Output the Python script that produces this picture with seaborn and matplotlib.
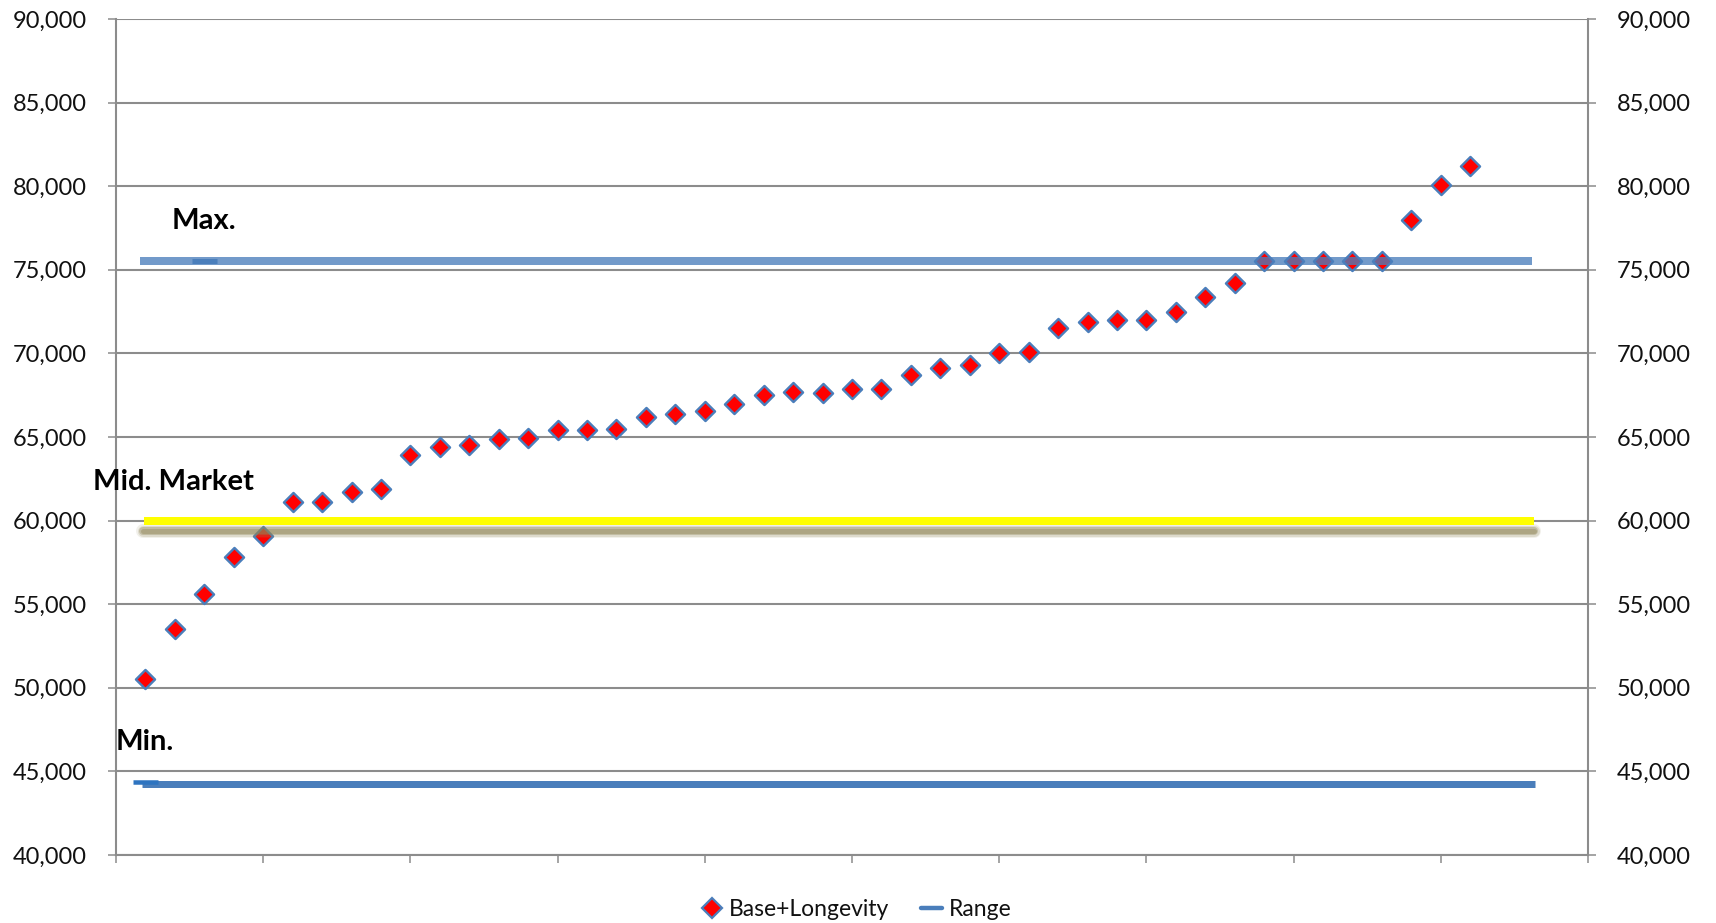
import numpy as np
import pandas as pd
import matplotlib
matplotlib.use("Agg")
import matplotlib.pyplot as plt
from matplotlib.lines import Line2D
import seaborn as sns

# Base + longevity pay, one value per employee (sorted)
base_longevity = [
    50500, 53500, 55600, 57800, 59100, 61100, 61100, 61700, 61900, 63900,
    64400, 64500, 64900, 64950, 65400, 65400, 65500, 66200, 66400, 66550,
    67000, 67500, 67700, 67650, 67900, 67900, 68700, 69100, 69300, 70000,
    70100, 71500, 71900, 72000, 72000, 72500, 73400, 74200, 75500, 75500,
    75500, 75500, 75500, 78000, 80100, 81200,
]

# Salary range
range_labels = ["Min.", "Mid. Market", "Max."]
range_values = [44250, 60000, 75500]

y_ticks = [40000, 45000, 50000, 55000, 60000, 65000, 70000, 75000, 80000, 85000, 90000]
y_tick_labels = [f"{v:,}" for v in y_ticks]

sns.set_style("white")
plt.rcParams["font.family"] = ["Lato", "DejaVu Sans"]

BLUE = "#4a7ebb"
GRID = "#8c8c8c"
PX = 0.72  # points per pixel at 100 dpi

fig = plt.figure(figsize=(17.16, 9.23), dpi=100)
ax = fig.add_axes([0.0676, 0.0737, 0.8578, 0.9057])

df = pd.DataFrame({"pos": np.arange(1, len(base_longevity) + 1), "pay": base_longevity})

# Employee points
sns.scatterplot(data=df, x="pos", y="pay", ax=ax, marker="D", s=95,
                color="#ff0000", edgecolor=BLUE, linewidth=1.7, zorder=3,
                legend=False)

# Min. line
sns.lineplot(x=[0.88, 48.2], y=[range_values[0]] * 2, ax=ax, color=BLUE,
             lw=7 * PX, solid_capstyle="butt", zorder=4, legend=False)

# Mid market line with a soft drop shadow
mid = range_values[1]
for lw, a in [(14, 0.12), (11, 0.20), (8, 0.35), (5, 0.40)]:
    ax.plot([0.92, 48.15], [mid - 620] * 2, color="#8f8456", lw=lw * PX,
            alpha=a, solid_capstyle="round", zorder=4)
ax.plot([2], [mid - 70], marker="_", ms=26 * PX, mew=3 * PX,
        color="#9acb3c", zorder=4.5, ls="none")
sns.lineplot(x=[0.95, 48.15], y=[mid] * 2, ax=ax, color="#ffff00",
             lw=8 * PX, solid_capstyle="butt", zorder=5, legend=False)

# Max. line (semi-transparent, over the points)
sns.lineplot(x=[0.82, 48.1], y=[range_values[2]] * 2, ax=ax, color=BLUE,
             alpha=0.78, lw=8 * PX, solid_capstyle="butt", zorder=6,
             legend=False)

# Range series markers
ax.plot([1], [range_values[0] + 120], marker="_", ms=25 * PX, mew=4.5 * PX,
        color="#2e74c0", zorder=5, ls="none")
ax.plot([3], [range_values[2]], marker="_", ms=25 * PX, mew=5 * PX,
        color=BLUE, zorder=7, ls="none")

# Range labels
label_pos = [(0.0, 46290), (-0.78, 61830), (1.9, 77440)]
for text, (lx, ly) in zip(range_labels, label_pos):
    ax.text(lx, ly, text, fontsize=21, fontweight="bold", ha="left",
            va="baseline", color="black", clip_on=False, zorder=8)

ax.set_xlim(0, 50)
ax.set_ylim(40000, 90000)
ax.set_xticks(np.arange(0, 51, 5))
ax.set_xticklabels([])
ax.set_yticks(y_ticks)
ax.set_yticklabels(y_tick_labels)
ax.set_xlabel("")
ax.set_ylabel("")
ax.yaxis.grid(True, color=GRID, lw=1.5)
ax.set_axisbelow(True)

for side in ["left", "right", "bottom"]:
    ax.spines[side].set_visible(True)
    ax.spines[side].set_color(GRID)
    ax.spines[side].set_linewidth(1.5)
ax.spines["top"].set_visible(False)

ax.tick_params(axis="both", which="major", direction="out", length=6,
               width=1.1, color=GRID, labelsize=17, pad=15, left=True,
               bottom=True, labelcolor="#111111")

ax2 = ax.twinx()
ax2.set_ylim(40000, 90000)
ax2.set_yticks(y_ticks)
ax2.set_yticklabels(y_tick_labels)
for side in ["left", "right", "bottom", "top"]:
    ax2.spines[side].set_visible(False)
ax2.tick_params(axis="y", direction="out", length=6, width=1.1, color=GRID,
                labelsize=17, pad=15, right=True, labelcolor="#111111")

handles = [
    Line2D([], [], marker="D", ls="none", markerfacecolor="#ff0000",
           markeredgecolor=BLUE, markeredgewidth=1.6, markersize=10,
           label="Base+Longevity"),
    Line2D([], [], color=BLUE, lw=3.2, label="Range"),
]
fig.legend(handles=handles, loc="center", bbox_to_anchor=(0.499, 0.015),
           ncol=2, frameon=False, fontsize=16.5, handlelength=0.9,
           handletextpad=0.3, columnspacing=1.4, labelcolor="#111111")

fig.savefig("out.png", dpi=100)
